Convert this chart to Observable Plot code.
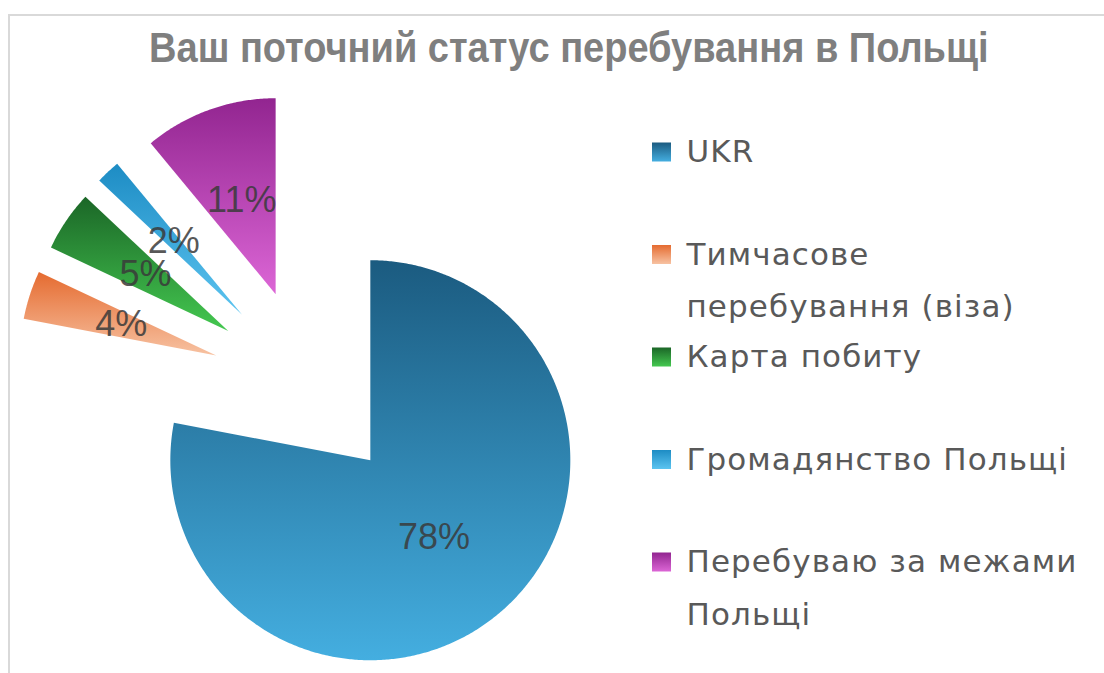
<!DOCTYPE html>
<html><head><meta charset="utf-8">
<script src="https://cdn.jsdelivr.net/npm/d3@7"></script>
<script src="https://cdn.jsdelivr.net/npm/@observablehq/plot@0.6"></script>
<style>
html,body{margin:0;padding:0;background:#fff;}
#chart{position:absolute;left:8px;top:14px;width:1096px;height:659px;border-top:2px solid #d9d9d9;border-left:2px solid #d9d9d9;box-sizing:border-box;overflow:hidden;}
#chart figure{margin:0;}
#chart h2{margin:0;height:64px;line-height:64px;padding-left:24px;text-align:center;font-family:"Liberation Sans",Arial,sans-serif;font-weight:bold;font-size:42px;color:#7f7f7f;white-space:nowrap;transform:scaleX(0.905);transform-origin:557px 50%;}
</style>
</head><body>
<div id="chart"></div>
<script>
// ---- data ----
const categories = ["UKR", "Тимчасове перебування (віза)", "Карта побиту", "Громадянство Польщі", "Перебуваю за межами Польщі"];
const shares = [78, 4, 5, 2, 11];
const valueLabels = ["78%", "4%", "5%", "2%", "11%"];
const legendLines = [["UKR"], ["Тимчасове", "перебування (віза)"], ["Карта побиту"], ["Громадянство Польщі"], ["Перебуваю за межами", "Польщі"]];
const titleText = "Ваш поточний статус перебування в Польщі";

// ---- styling / layout ----
const topColors = ["#1b5b80", "#e56b30", "#1b6627", "#1d8cc4", "#922590"];
const bottomColors = ["#44aee0", "#f7c2a2", "#44c850", "#5cc4f0", "#dc66d6"];
const W = 1094, H = 593, OX = 10, OY = 80;   // svg size and page offset
const C = [308, 385], R = 196, EXPLODE = 97;
const LEG_X = 652, LEG_SW = 19, LEG_TX = 686, LEG_Y0 = 152, LEG_PITCH = 102.5, LEG_LINE = 52.5;
const LEG_FONT = "DejaVu Sans, sans-serif";

const arcs = d3.pie().sort(null).startAngle(0).endAngle(2 * Math.PI)(shares);
const pt = (cx, cy, r, a) => [cx + r * Math.sin(a), cy - r * Math.cos(a)];

const polyRows = [];
const labelRows = [];
arcs.forEach((a, i) => {
  const m = (a.startAngle + a.endAngle) / 2;
  const [ax, ay] = pt(C[0], C[1], EXPLODE, m);
  const fill = `url(#grad${i})`;
  const r = i === 0 ? 200 : R;
  polyRows.push({cat: categories[i], fill, x: ax, y: ay});
  const n = Math.max(4, Math.ceil((a.endAngle - a.startAngle) / (Math.PI / 360)));
  for (let k = 0; k <= n; k++) {
    const t = a.startAngle + (a.endAngle - a.startAngle) * k / n;
    const [x, y] = pt(ax, ay, r, t);
    polyRows.push({cat: categories[i], fill, x, y});
  }
  polyRows.push({cat: categories[i], fill, x: ax, y: ay});
  const [lx, ly] = pt(ax, ay, 100, m);
  labelRows.push({text: valueLabels[i], x: lx, y: ly});
});

const legendSw = categories.map((c, i) => ({cat: c, fill: `url(#grad${i})`, y: LEG_Y0 + i * LEG_PITCH}));
const legendText = [];
legendLines.forEach((lines, i) => lines.forEach((t, j) => legendText.push({text: t, y: LEG_Y0 + i * LEG_PITCH + j * LEG_LINE})));

const fig = Plot.plot({
  title: titleText,
  width: W, height: H, margin: 0,
  x: {type: "linear", domain: [OX, OX + W], range: [0, W], axis: null},
  y: {type: "linear", domain: [OY, OY + H], range: [0, H], axis: null},
  color: {type: "identity"},
  style: {background: "transparent", overflow: "visible"},
  marks: [
    Plot.line(polyRows, {x: "x", y: "y", z: "cat", fill: "fill", stroke: "none", curve: "linear"}),
    Plot.text(labelRows, {x: "x", y: "y", text: "text", fontSize: 36, fill: "#3a3a3a", fillOpacity: 0.85, fontFamily: "Liberation Sans, Arial, sans-serif"}),
    Plot.rect(legendSw, {x1: () => LEG_X, x2: () => LEG_X + LEG_SW, y1: d => d.y - LEG_SW / 2, y2: d => d.y + LEG_SW / 2, fill: "fill"}),
    Plot.text(legendText, {x: () => LEG_TX, y: "y", text: "text", textAnchor: "start", fontSize: 31, fill: "#595959", fontFamily: LEG_FONT})
  ]
});
document.getElementById("chart").appendChild(fig);

const svg = fig.tagName.toLowerCase() === "svg" ? fig : fig.querySelector("svg");
d3.select(svg).selectAll("g[font-family]").filter(function() { return this.getAttribute("font-family") === LEG_FONT; }).attr("letter-spacing", "1.1px");
const defs = d3.select(svg).insert("defs", ":first-child");
topColors.forEach((c, i) => {
  const g = defs.append("linearGradient").attr("id", `grad${i}`).attr("x1", 0).attr("y1", 0).attr("x2", 0).attr("y2", 1);
  g.append("stop").attr("offset", "0%").attr("stop-color", c);
  g.append("stop").attr("offset", "100%").attr("stop-color", bottomColors[i]);
});
</script>
</body></html>
